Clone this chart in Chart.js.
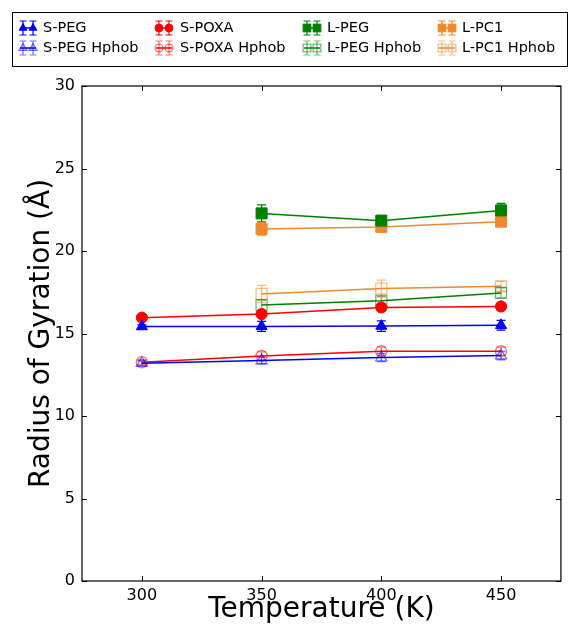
<!DOCTYPE html>
<html>
<head>
<meta charset="utf-8">
<script src="https://cdn.jsdelivr.net/npm/chart.js@4"></script>
<style>
  html, body { margin: 0; padding: 0; background: #fff; }
  #wrap { width: 570px; height: 630px; }
</style>
</head>
<body>
<div id="wrap"><canvas id="rgChart" width="570" height="630"></canvas></div>
<script>
// Radius of gyration vs temperature, short and long chains, with hydrophobic parts

// --- data ---
const tempsS = [300, 350, 400, 450];
const tempsL = [350, 400, 450];

const sPeg          = [15.42, 15.43, 15.45, 15.50];
const sPegErr       = [0.10, 0.30, 0.32, 0.30];
const sPoxa         = [15.96, 16.18, 16.58, 16.64];
const sPoxaErr      = [0.10, 0.15, 0.20, 0.20];
const lPeg          = [22.28, 21.84, 22.46];
const lPegErr       = [0.52, 0.30, 0.42];
const lPc1          = [21.34, 21.46, 21.78];
const lPc1Err       = [0.38, 0.15, 0.15];

const sPegHphob     = [13.20, 13.36, 13.54, 13.66];
const sPegHphobErr  = [0.15, 0.20, 0.25, 0.25];
const sPoxaHphob    = [13.26, 13.64, 13.92, 13.92];
const sPoxaHphobErr = [0.15, 0.25, 0.25, 0.25];
const lPegHphob     = [16.72, 16.98, 17.46];
const lPegHphobErr  = [0.30, 0.25, 0.30];
const lPc1Hphob     = [17.40, 17.72, 17.86];
const lPc1HphobErr  = [0.52, 0.52, 0.30];

const xTicks = [300, 350, 400, 450];
const yTicks = [0, 5, 10, 15, 20, 25, 30];

// --- styles ---
const BLUE = '#0000ff', RED = '#ff0000', GREEN = '#008000', ORANGE = '#f0892e';
const FONT = "'DejaVu Sans', sans-serif";

function fade(hex, a) {
  const n = parseInt(hex.slice(1), 16);
  return `rgba(${n >> 16},${(n >> 8) & 255},${n & 255},${a})`;
}

function series(label, xs, ys, errs, color, style, hollow) {
  return {
    label: label,
    data: xs.map((x, i) => ({ x: x, y: ys[i] })),
    err: errs,
    errColor: hollow ? fade(color, 0.55) : color,
    hollow: hollow,
    borderColor: color,
    borderWidth: 1.5,
    pointStyle: style,
    pointRadius: style === 'rect' ? 7.8 : (style === 'triangle' ? 6.4 : 5.6),
    pointBackgroundColor: hollow ? 'rgba(0,0,0,0)' : color,
    pointBorderColor: hollow ? fade(color, 0.55) : color,
    pointBorderWidth: hollow ? 1.3 : 1,
    tension: 0,
    fill: false
  };
}

const datasets = [
  series('S-PEG', tempsS, sPeg, sPegErr, BLUE, 'triangle', false),
  series('S-POXA', tempsS, sPoxa, sPoxaErr, RED, 'circle', false),
  series('L-PEG', tempsL, lPeg, lPegErr, GREEN, 'rect', false),
  series('L-PC1', tempsL, lPc1, lPc1Err, ORANGE, 'rect', false),
  series('S-PEG Hphob', tempsS, sPegHphob, sPegHphobErr, BLUE, 'triangle', true),
  series('S-POXA Hphob', tempsS, sPoxaHphob, sPoxaHphobErr, RED, 'circle', true),
  series('L-PEG Hphob', tempsL, lPegHphob, lPegHphobErr, GREEN, 'rect', true),
  series('L-PC1 Hphob', tempsL, lPc1Hphob, lPc1HphobErr, ORANGE, 'rect', true)
];

// error bars with caps, drawn under the lines and markers
const errorBars = {
  id: 'errorBars',
  beforeDatasetsDraw(chart) {
    const { ctx, scales: { x, y } } = chart;
    chart.data.datasets.forEach(ds => {
      ctx.save();
      ctx.strokeStyle = ds.errColor;
      ctx.lineWidth = 1.3;
      ds.data.forEach((p, i) => {
        const px = x.getPixelForValue(p.x);
        const top = y.getPixelForValue(p.y + ds.err[i]);
        const bot = y.getPixelForValue(p.y - ds.err[i]);
        ctx.beginPath();
        ctx.moveTo(px, top); ctx.lineTo(px, bot);
        ctx.moveTo(px - 4.5, top); ctx.lineTo(px + 4.5, top);
        ctx.moveTo(px - 4.5, bot); ctx.lineTo(px + 4.5, bot);
        ctx.stroke();
      });
      ctx.restore();
    });
  }
};

// box round the plot, ticks pointing inwards on all four sides
const frame = {
  id: 'frame',
  afterDatasetsDraw(chart) {
    const { ctx, chartArea: a, scales: { x, y } } = chart;
    ctx.save();
    ctx.strokeStyle = '#000';
    ctx.lineWidth = 1.2;
    ctx.strokeRect(a.left, a.top, a.right - a.left, a.bottom - a.top);
    ctx.beginPath();
    x.ticks.forEach(t => {
      const px = Math.round(x.getPixelForValue(t.value)) + 0.5;
      ctx.moveTo(px, a.bottom); ctx.lineTo(px, a.bottom - 5);
      ctx.moveTo(px, a.top); ctx.lineTo(px, a.top + 5);
    });
    y.ticks.forEach(t => {
      const py = Math.round(y.getPixelForValue(t.value)) + 0.5;
      ctx.moveTo(a.left, py); ctx.lineTo(a.left + 5, py);
      ctx.moveTo(a.right, py); ctx.lineTo(a.right - 5, py);
    });
    ctx.lineWidth = 1;
    ctx.stroke();
    ctx.restore();
  }
};

// two-row legend in a box above the plot
const legendBox = {
  id: 'legendBox',
  afterDraw(chart) {
    const ctx = chart.ctx;
    const iconX = [20, 156, 304, 439];
    const textX = [43, 180, 327, 462];
    const rowY = [28, 48];
    ctx.save();
    ctx.strokeStyle = '#000';
    ctx.lineWidth = 1;
    ctx.strokeRect(12.5, 12.5, 555, 54);
    chart.data.datasets.forEach((ds, i) => {
      const col = i % 4, row = Math.floor(i / 4);
      const x0 = iconX[col], x1 = x0 + 16, cy = rowY[row];
      ctx.strokeStyle = ds.borderColor;
      ctx.lineWidth = 1.5;
      ctx.beginPath();
      ctx.moveTo(x0, cy); ctx.lineTo(x1, cy);
      ctx.stroke();
      [x0 + 3, x1 - 3].forEach(mx => {
        ctx.strokeStyle = ds.errColor;
        ctx.lineWidth = 1.2;
        ctx.beginPath();
        ctx.moveTo(mx, cy - 7); ctx.lineTo(mx, cy + 7);
        ctx.moveTo(mx - 3.5, cy - 7); ctx.lineTo(mx + 3.5, cy - 7);
        ctx.moveTo(mx - 3.5, cy + 7); ctx.lineTo(mx + 3.5, cy + 7);
        ctx.stroke();
        ctx.fillStyle = ds.pointBackgroundColor;
        ctx.strokeStyle = ds.pointBorderColor;
        ctx.lineWidth = ds.pointBorderWidth;
        Chart.helpers.drawPoint(ctx, {
          pointStyle: ds.pointStyle,
          radius: ds.pointRadius * 0.7,
          rotation: 0,
          borderWidth: ds.pointBorderWidth
        }, mx, cy);
      });
      ctx.fillStyle = '#000';
      ctx.font = '14.5px ' + FONT;
      ctx.textBaseline = 'middle';
      ctx.textAlign = 'left';
      ctx.fillText(ds.label, textX[col], cy);
    });
    ctx.restore();
  }
};

new Chart(document.getElementById('rgChart'), {
  type: 'line',
  data: { datasets: datasets },
  options: {
    responsive: false,
    devicePixelRatio: 1,
    animation: false,
    events: [],
    layout: { padding: { top: 86, right: 8, left: 0, bottom: 0 } },
    plugins: { legend: { display: false }, tooltip: { enabled: false } },
    scales: {
      x: {
        type: 'linear',
        min: 275,
        max: 475,
        afterBuildTicks: s => { s.ticks = xTicks.map(v => ({ value: v })); },
        afterFit: s => { s.height = 49; },
        grid: { display: false, drawTicks: false },
        border: { display: false },
        ticks: { color: '#000', font: { family: FONT, size: 16 }, padding: 5, maxRotation: 0 },
        title: { display: true, text: 'Temperature (K)', color: '#000', font: { family: FONT, size: 28 }, padding: { top: 0, bottom: 3 } }
      },
      y: {
        type: 'linear',
        min: 0,
        max: 30,
        afterBuildTicks: s => { s.ticks = yTicks.map(v => ({ value: v })); },
        afterFit: s => { s.width = 82; },
        grid: { display: false, drawTicks: false },
        border: { display: false },
        ticks: { color: '#000', font: { family: FONT, size: 16 }, padding: 7 },
        title: { display: true, text: 'Radius of Gyration (Å)', color: '#000', font: { family: FONT, size: 28 }, padding: { top: 25, bottom: 0 } }
      }
    }
  },
  plugins: [errorBars, frame, legendBox]
});
</script>
</body>
</html>
